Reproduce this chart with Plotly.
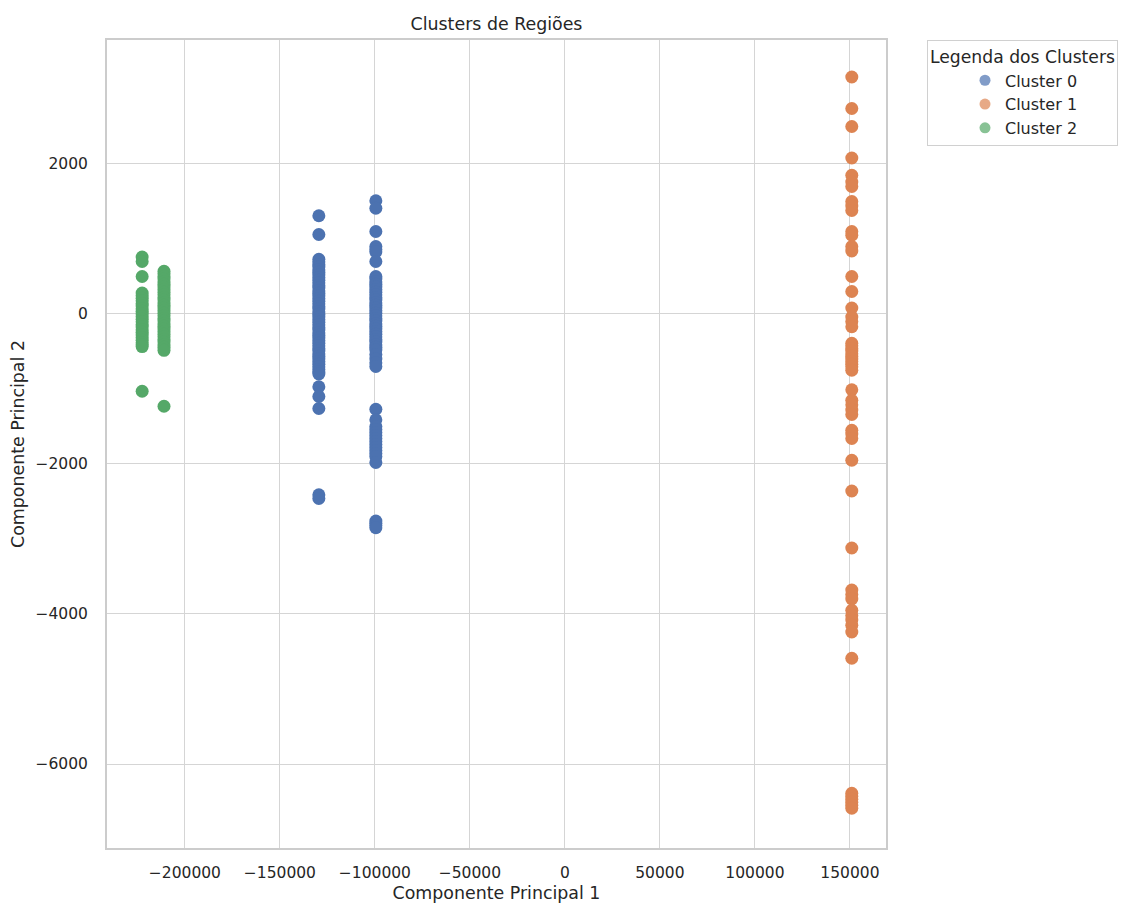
import plotly.graph_objects as go

# Cluster 2 (green)
c2_col1_x = -222500
c2_col1_y = [760, 700, 500, 280, 245, 210, 175, 140, 105, 70, 35, 0, -35, -70, -105, -140, -175, -210,
             -245, -280, -315, -350, -385, -410, -435, -1030]
c2_col2_x = -211000
c2_col2_y = [570, 535, 500, 465, 430, 395, 360, 325, 290, 255, 220, 185, 150, 115, 80, 45, 10, -25, -60,
             -95, -130, -165, -200, -235, -270, -305, -340, -375, -410, -445, -485, -1230]

# Cluster 0 (blue)
c0_col1_x = -129500
c0_col1_y = [1310, 1060, 730, 695, 660, 625, 590, 555, 520, 485, 450, 415, 380, 345, 310, 275, 240, 205,
             170, 135, 100, 65, 30, -5, -40, -75, -110, -145, -180, -215, -250, -285, -320, -355, -390,
             -425, -460, -495, -530, -565, -600, -635, -670, -705, -740, -770, -800, -970, -1100, -1260,
             -2410, -2460]
c0_col2_x = -99500
c0_col2_y = [1510, 1410, 1100, 900, 860, 830, 700, 500, 465, 430, 395, 360, 325, 290, 255, 220, 185, 150,
             115, 80, 45, 10, -25, -60, -95, -130, -165, -200, -235, -270, -305, -340, -375, -410, -445,
             -480, -540, -600, -650, -700, -1270, -1410, -1500, -1540, -1580, -1620, -1660, -1700, -1740,
             -1780, -1820, -1860, -1900, -1980, -2760, -2790, -2820, -2850]

# Cluster 1 (orange)
c1_x = 151000
c1_y = [3160, 2740, 2500, 2080, 1850, 1760, 1700, 1500, 1440, 1380, 1100, 1050, 900, 840, 500, 300, 80,
        -40, -100, -170, -390, -425, -460, -495, -530, -565, -600, -635, -670, -705, -750, -1010, -1150,
        -1210, -1280, -1340, -1550, -1600, -1660, -1950, -2360, -3120, -3680, -3740, -3800, -3950, -4020,
        -4080, -4150, -4240, -4590, -6390, -6430, -6470, -6510, -6550, -6590]

cluster_names = ["Cluster 0", "Cluster 1", "Cluster 2"]
cluster_colors = ["#4C72B0", "#DD8452", "#55A868"]

x_ticks_step = 50000
y_ticks_step = 2000

text_color = "#262626"
grid_color = "#d5d5d5"
font_family = "DejaVu Sans"

fig = go.Figure()

series = [
    (0, [c0_col1_x] * len(c0_col1_y) + [c0_col2_x] * len(c0_col2_y), c0_col1_y + c0_col2_y),
    (1, [c1_x] * len(c1_y), c1_y),
    (2, [c2_col1_x] * len(c2_col1_y) + [c2_col2_x] * len(c2_col2_y), c2_col1_y + c2_col2_y),
]
for idx, xs, ys in series:
    fig.add_trace(go.Scatter(
        x=xs, y=ys, mode="markers",
        marker=dict(color=cluster_colors[idx], size=13, line=dict(width=0)),
        name=cluster_names[idx], showlegend=False, hoverinfo="x+y+name",
    ))

for idx in range(3):
    fig.add_trace(go.Scatter(
        x=[None], y=[None], mode="markers",
        marker=dict(color=cluster_colors[idx], size=11, opacity=0.7),
        name=cluster_names[idx], showlegend=True,
    ))

axis_common = dict(
    showgrid=True, gridcolor=grid_color, gridwidth=1.2,
    showline=True, linecolor="#cccccc", linewidth=2, mirror=True,
    zeroline=False, ticks="", tickformat="d", automargin=False,
    tickfont=dict(size=15.5, color=text_color, family=font_family),
    title_font=dict(size=17.4, color=text_color, family=font_family),
)

fig.update_xaxes(
    range=[-241000, 169000], tickmode="linear", tick0=0, dtick=x_ticks_step,
    title_text="Componente Principal 1", title_standoff=8, ticklabelstandoff=9, **axis_common,
)
fig.update_yaxes(
    range=[-7120, 3653], tickmode="linear", tick0=0, dtick=y_ticks_step,
    title_text="Componente Principal 2", title_standoff=11, ticklabelstandoff=14, **axis_common,
)

W, H = 1118, 895
PL, PR = 99, 240
fig.update_layout(
    width=W, height=H,
    margin=dict(l=PL, r=PR, t=32, b=55, autoexpand=False),
    paper_bgcolor="white", plot_bgcolor="white",
    font=dict(family=font_family, color=text_color),
    title=dict(text="Clusters de Regiões", x=0.5, xref="paper", xanchor="center",
               y=1 - 16 / H, yref="container", yanchor="middle",
               font=dict(size=17.4, color=text_color, family=font_family)),
    legend=dict(
        x=(927 - 8 - PL) / (W - PL - PR), xanchor="left", y=1.0, yanchor="top",
        bgcolor="rgba(255,255,255,0.8)", bordercolor="#d0d0d0", borderwidth=1,
        font=dict(size=16, color=text_color, family=font_family),
        title=dict(text="Legenda dos Clusters", side="top",
                   font=dict(size=17.2, color=text_color, family=font_family)),
        indentation=37, tracegroupgap=0, itemwidth=30, entrywidth=180,
    ),
)

fig.write_html("out.html")
